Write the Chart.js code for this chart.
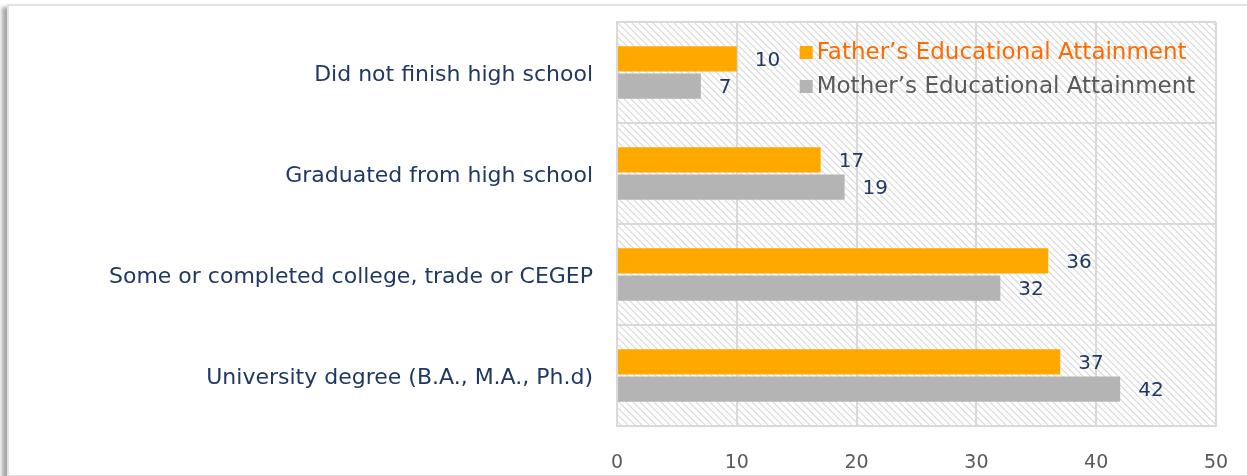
<!DOCTYPE html>
<html>
<head>
<meta charset="utf-8">
<script src="https://cdn.jsdelivr.net/npm/chart.js@4/dist/chart.umd.min.js"></script>
<style>
  html, body { margin: 0; padding: 0; background: #fff; }
  #wrap { position: relative; width: 1247px; height: 476px; overflow: hidden; }
  #frame { position: absolute; left: 7px; top: 4px; width: 1260px; height: 469px;
           border: 2px solid #e3e3e3; box-shadow: -5px 3px 4px rgba(0,0,0,0.35); background: #fff; }
  #chart { position: absolute; left: 0; top: 0; }
</style>
</head>
<body>
<div id="wrap">
  <div id="frame"></div>
  <canvas id="chart" width="1247" height="476"></canvas>
</div>
<script>
const categories = [
  'Did not finish high school',
  'Graduated from high school',
  'Some or completed college, trade or CEGEP',
  'University degree (B.A., M.A., Ph.d)'
];
const fatherValues = [10, 17, 36, 37];
const motherValues = [7, 19, 32, 42];
const seriesNames = ["Father\u2019s Educational Attainment", "Mother\u2019s Educational Attainment"];
const xTicks = [0, 10, 20, 30, 40, 50];

const ORANGE = '#ffa800';
const GREY = '#b4b4b4';
const NAVY = '#1f3864';
const FONT = '"DejaVu Sans", sans-serif';

// diagonal stripes for the plot background
function hatch(ctx) {
  const c = document.createElement('canvas');
  c.width = 7; c.height = 7;
  const g = c.getContext('2d');
  g.fillStyle = '#fff';
  g.fillRect(0, 0, 7, 7);
  g.strokeStyle = '#d8d8d8';
  g.lineWidth = 1.2;
  g.beginPath();
  g.moveTo(-1, -1); g.lineTo(8, 8);
  g.moveTo(-8, -1); g.lineTo(1, 8);
  g.moveTo(6, -1); g.lineTo(15, 8);
  g.stroke();
  return ctx.createPattern(c, 'repeat');
}

const hatchBg = {
  id: 'hatchBg',
  beforeDraw(chart) {
    const { ctx, chartArea: a } = chart;
    ctx.save();
    ctx.fillStyle = hatch(ctx);
    ctx.fillRect(a.left, a.top, a.right - a.left, a.bottom - a.top);
    ctx.restore();
  }
};

const valueLabels = {
  id: 'valueLabels',
  afterDatasetsDraw(chart) {
    const ctx = chart.ctx;
    ctx.save();
    ctx.font = '20px ' + FONT;
    ctx.fillStyle = NAVY;
    ctx.textBaseline = 'middle';
    ctx.textAlign = 'left';
    chart.data.datasets.forEach((ds, i) => {
      chart.getDatasetMeta(i).data.forEach((bar, j) => {
        ctx.fillText(String(ds.data[j]), bar.x + 18, bar.y + 2);
      });
    });
    ctx.restore();
  }
};

const innerLegend = {
  id: 'innerLegend',
  afterDraw(chart) {
    const ctx = chart.ctx;
    const x = chart.scales.x.getPixelForValue(15.25);
    const y0 = chart.chartArea.top + 31;
    const colors = [ORANGE, GREY];
    const textColors = ['#ff6a00', '#595959'];
    ctx.save();
    ctx.font = '23px ' + FONT;
    ctx.textBaseline = 'middle';
    seriesNames.forEach((name, i) => {
      const y = y0 + i * 34;
      ctx.fillStyle = colors[i];
      ctx.fillRect(x, y - 7, 13, 13);
      ctx.fillStyle = textColors[i];
      ctx.fillText(name, x + 17, y);
    });
    ctx.restore();
  }
};

new Chart(document.getElementById('chart'), {
  type: 'bar',
  data: {
    labels: categories,
    datasets: [
      { label: seriesNames[0], data: fatherValues, backgroundColor: ORANGE },
      { label: seriesNames[1], data: motherValues, backgroundColor: GREY }
    ]
  },
  options: {
    indexAxis: 'y',
    responsive: false,
    animation: false,
    events: [],
    categoryPercentage: 0.54,
    barPercentage: 0.93,
    layout: { padding: { top: 22, right: 31, bottom: 0, left: 0 } },
    plugins: { legend: { display: false }, tooltip: { enabled: false } },
    scales: {
      x: {
        min: 0, max: 50,
        afterBuildTicks(scale) { scale.ticks = xTicks.map(v => ({ value: v })); },
        afterFit(scale) { scale.height = 50; scale.paddingLeft = 0; scale.paddingRight = 0; },
        grid: { color: '#d9d9d9', lineWidth: 2, drawTicks: false },
        border: { color: '#d9d9d9', width: 2 },
        ticks: { color: '#595959', font: { size: 19, family: FONT }, padding: 26 }
      },
      y: {
        afterFit(scale) { scale.width = 617; scale.paddingTop = 0; scale.paddingBottom = 0; },
        grid: { color: '#d9d9d9', lineWidth: 2, drawTicks: false, offset: true },
        border: { color: '#d9d9d9', width: 2 },
        ticks: { color: NAVY, font: { size: 22, family: FONT }, padding: 24, labelOffset: 3 }
      }
    }
  },
  plugins: [hatchBg, valueLabels, innerLegend]
});
</script>
</body>
</html>
